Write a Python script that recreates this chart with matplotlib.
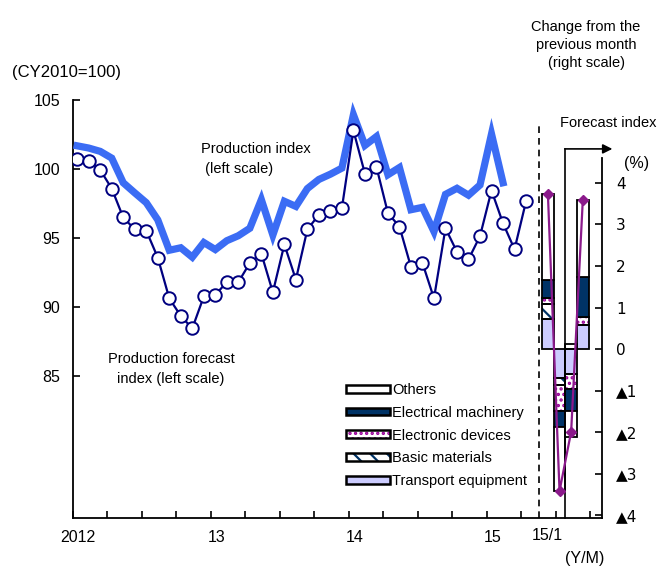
import matplotlib
matplotlib.use("Agg")
import matplotlib.pyplot as plt
import numpy as np
from matplotlib.patches import Patch
from matplotlib.legend_handler import HandlerTuple

# Production index and production forecast index (CY2010=100), monthly from 2012/1
production = [101.65, 101.49, 101.25, 100.76, 98.98, 98.25, 97.54, 96.30, 94.10, 94.28, 93.60, 94.66,
              94.15, 94.79, 95.15, 95.69, 97.76, 95.20, 97.64, 97.27, 98.56, 99.22, 99.60, 100.04,
              103.90, 101.68, 102.32, 99.56, 100.08, 97.03, 97.20, 95.45, 98.14, 98.58, 98.08, 98.82,
              102.51, 98.98]
forecast = [100.68, 100.57, 99.91, 98.56, 96.47, 95.61, 95.52, 93.57, 90.62, 89.35, 88.45, 90.76,
            90.88, 91.79, 91.79, 93.18, 93.86, 91.06, 94.52, 91.98, 95.61, 96.66, 96.95, 97.15,
            102.76, 99.64, 100.13, 96.78, 95.81, 92.89, 93.18, 90.62, 95.69, 93.98, 93.44, 95.12,
            98.42, 96.05, 94.17, 97.64]

# change from the previous month by industry (%), 15/1 .. 15/4
bar_months = ["15/1", "15/2", "15/3", "15/4"]
others = [2.07, -1.53, -0.63, 1.85]
elec_machinery = [0.42, -0.40, -0.52, 0.96]
elec_devices = [0.16, -0.63, -0.38, 0.18]
basic_materials = [0.36, -0.16, 0.13, 0.00]
transport = [0.72, -0.70, -0.59, 0.59]

year_labels = ["2012", "13", "14", "15"]
left_ticks = [85, 90, 95, 100, 105]
right_ticks = [-4, -3, -2, -1, 0, 1, 2, 3, 4]
right_labels = ["▲4", "▲3", "▲2", "▲1", "0", "1", "2", "3", "4"]

plt.rcParams["font.family"] = ["Liberation Sans", "DejaVu Sans"]
plt.rcParams["hatch.linewidth"] = 1.6

W, H = 657, 569
fig = plt.figure(figsize=(W / 100, H / 100), dpi=100)
ax = fig.add_axes([72.6 / W, 1 - 518 / H, (602 - 72.6) / W, (518 - 99.5) / H])
ax2 = ax.twinx()

navy = "#000080"
blue = "#3B6CF4"
purple = "#8B1A8B"
dark = "#003366"

x_prod = np.arange(len(production)) + 0.4
x_fc = np.arange(len(forecast)) + 0.4
ax.plot(x_prod, production, color=blue, lw=5.2, solid_joinstyle="miter", zorder=3)
ax.plot(x_fc, forecast, color=navy, lw=1.6, marker="o", ms=9, mfc="white", mec=navy, mew=1.4, zorder=4)

ax.set_xlim(0, 46)
ax.set_ylim(74.74, 105)
ax.set_yticks(left_ticks)
ax.set_yticklabels([str(t) for t in left_ticks], fontsize=11.5)
ax.set_xticks(np.arange(0, 46, 3))
ax.set_xticklabels([])
ax.set_xticks([0.5, 12.5, 24.5, 36.5], labels=year_labels, minor=True)
ax.tick_params(axis="x", which="major", direction="in", length=5, width=1.2)
ax.tick_params(axis="x", which="minor", length=0, pad=9, labelsize=11.5)
ax.tick_params(axis="y", direction="in", length=5, width=1.2, pad=9)
for s in ["top", "right"]:
    ax.spines[s].set_visible(False)
ax.spines["left"].set_linewidth(1.3)
ax.spines["bottom"].set_linewidth(1.3)

# stacked bars on the right scale
bar_w = 1.01
bar_x = 41.3 + np.arange(4) * bar_w
layers = [
    (transport, "#CCCCFF", None, None),
    (basic_materials, "white", "\\\\", dark),
    (elec_devices, "white", "...", "#990099"),
    (elec_machinery, dark, None, None),
    (others, "white", None, None),
]
pos = np.zeros(4)
neg = np.zeros(4)
for vals, fc, hatch, hc in layers:
    vals = np.array(vals)
    keep = vals != 0
    bottom = np.where(vals >= 0, pos, neg)
    if hatch:
        ax2.bar(bar_x[keep], vals[keep], bar_w, bottom=bottom[keep], facecolor=fc,
                edgecolor=hc, hatch=hatch, linewidth=0, zorder=2)
        fc = "none"
    ax2.bar(bar_x[keep], vals[keep], bar_w, bottom=bottom[keep], facecolor=fc,
            edgecolor="black", linewidth=1.3, zorder=3)
    pos += np.where(vals > 0, vals, 0)
    neg += np.where(vals < 0, vals, 0)

totals = np.sum([others, elec_machinery, elec_devices, basic_materials, transport], axis=0)
ax2.plot(bar_x, totals, color=purple, lw=1.6, marker="D", ms=5, zorder=5)

ax2.set_ylim(-4.07, 6.01)
ax2.set_yticks(right_ticks)
ax2.set_yticklabels(right_labels, fontsize=11, family="DejaVu Sans")
ax2.tick_params(axis="y", direction="in", length=5, width=1.2, pad=10)
for s in ["top", "left", "bottom"]:
    ax2.spines[s].set_visible(False)
ax2.spines["right"].set_bounds(-4.07, 4.6)
ax2.spines["right"].set_linewidth(1.3)

# boundary between the index and the monthly changes
ax2.vlines(40.5, -4.07, 5.4, colors="black", linestyles=(0, (4, 3)), lw=1.2, clip_on=False)
# forecast months marker
split = bar_x[1] + bar_w / 2
ax2.plot([split, split], [-4.07, 4.82], color="black", lw=1.2, clip_on=False, zorder=4)
ax2.annotate("", xy=(46.9, 4.82), xytext=(split - 0.05, 4.82), annotation_clip=False,
             arrowprops=dict(arrowstyle="-|>", color="black", lw=1.2, mutation_scale=14,
                             shrinkA=0, shrinkB=0))

# legend
handles = [
    Patch(facecolor="white", edgecolor="black", lw=1.8),
    Patch(facecolor=dark, edgecolor="black", lw=1.8),
    (Patch(facecolor="white", edgecolor="#990099", hatch="...", lw=0),
     Patch(facecolor="none", edgecolor="black", lw=1.8)),
    (Patch(facecolor="white", edgecolor=dark, hatch="\\\\", lw=0),
     Patch(facecolor="none", edgecolor="black", lw=1.8)),
    Patch(facecolor="#CCCCFF", edgecolor="black", lw=1.8),
]
labels = ["Others", "Electrical machinery", "Electronic devices", "Basic materials",
          "Transport equipment"]
ax2.legend(handles, labels, handler_map={tuple: HandlerTuple(ndivide=1, pad=0)},
           loc="upper left", bbox_to_anchor=(346 / W, 1 - 383 / H), bbox_transform=fig.transFigure,
           frameon=False, fontsize=10.5, handlelength=3.0, handleheight=0.45,
           handletextpad=0.15, labelspacing=0.6, borderpad=0, borderaxespad=0)


def ftext(x, y, s, **kw):
    fig.text(x / W, 1 - y / H, s, va="center", **kw)


ftext(12, 73, "(CY2010=100)", fontsize=12)
ftext(201, 159, "Production index\n (left scale)", fontsize=10.5, ha="left", linespacing=1.5)
ftext(171, 369, "Production forecast\nindex (left scale)", fontsize=10.5, ha="center",
      linespacing=1.5)
ftext(586, 45, "Change from the\nprevious month\n(right scale)", fontsize=10.5, ha="center",
      linespacing=1.4)
ftext(608, 123, "Forecast index", fontsize=10.5, ha="center")
ftext(637, 164, "(%)", fontsize=11.5, ha="center")
ftext(547, 536, bar_months[0], fontsize=11.5, ha="center")
ftext(585, 558, "(Y/M)", fontsize=11.5, ha="center")

fig.savefig("out.png", dpi=100)
